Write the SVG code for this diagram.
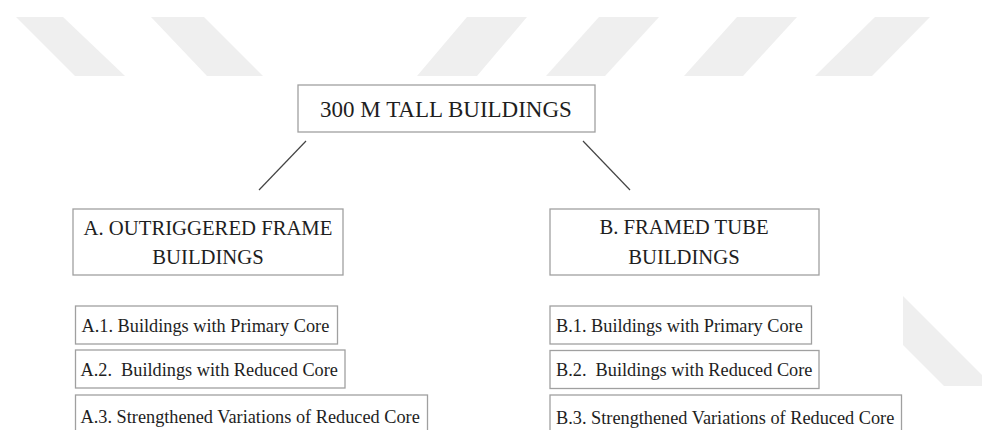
<svg xmlns="http://www.w3.org/2000/svg" width="982" height="430" viewBox="0 0 982 430">
<style>
.wm{fill:#efefef;stroke:none}
.box{fill:#fff;stroke:#a0a0a0;stroke-width:1.3}
.t{font-family:"Liberation Serif","Times New Roman",serif;fill:#1e1e1e;white-space:pre}
.title{font-size:23px}
.head{font-size:20.7px}
.item{font-size:18.3px}
.conn{stroke:#444;stroke-width:1.2;fill:none}
</style>
<rect width="982" height="430" fill="#fff"/>
<g id="watermark">
<polygon class="wm" points="16,17 63,17 125,76 75,76"/>
<polygon class="wm" points="151,17 204,17 263,76 207,76"/>
<polygon class="wm" points="467,17 527,17 477,76 417,76"/>
<polygon class="wm" points="599,17 659,17 605,76 546,76"/>
<polygon class="wm" points="737,17 797,17 743,76 684,76"/>
<polygon class="wm" points="875,17 930,17 872,76 815,76"/>
<polygon class="wm" points="903,296 982,375 982,386 944,386 903,345"/>
</g>
<g id="connectors">
<line class="conn" x1="306" y1="141" x2="259" y2="190"/>
<line class="conn" x1="583" y1="141" x2="630" y2="190"/>
</g>
<g id="root">
<rect class="box" x="298" y="85" width="297" height="47"/>
<text class="t title" x="446" y="117" text-anchor="middle">300 M TALL BUILDINGS</text>
</g>
<g id="nodeA">
<rect class="box" x="73" y="209" width="270" height="66"/>
<text class="t head" x="208" y="234.5" text-anchor="middle">A. OUTRIGGERED FRAME</text>
<text class="t head" x="208" y="264" text-anchor="middle">BUILDINGS</text>
</g>
<g id="nodeB">
<rect class="box" x="550" y="209" width="269" height="66"/>
<text class="t head" x="684" y="233.5" text-anchor="middle">B. FRAMED TUBE</text>
<text class="t head" x="684" y="264" text-anchor="middle">BUILDINGS</text>
</g>
<g id="nodeA1">
<rect class="box" x="75.5" y="306" width="262" height="38"/>
<text class="t item" x="81.5" y="331.5">A.1. Buildings with Primary Core</text>
</g>
<g id="nodeA2">
<rect class="box" x="75.5" y="350" width="269.5" height="38"/>
<text class="t item" x="80.5" y="376">A.2.  Buildings with Reduced Core</text>
</g>
<g id="nodeA3">
<rect class="box" x="75.5" y="395" width="352" height="40"/>
<text class="t item" x="80.5" y="423">A.3. Strengthened Variations of Reduced Core</text>
</g>
<g id="nodeB1">
<rect class="box" x="550" y="306" width="261.5" height="38"/>
<text class="t item" x="556" y="331.5">B.1. Buildings with Primary Core</text>
</g>
<g id="nodeB2">
<rect class="box" x="550" y="350.5" width="269" height="38"/>
<text class="t item" x="556" y="376">B.2.  Buildings with Reduced Core</text>
</g>
<g id="nodeB3">
<rect class="box" x="550" y="395" width="351.5" height="40"/>
<text class="t item" x="556" y="423.5">B.3. Strengthened Variations of Reduced Core</text>
</g>
</svg>
